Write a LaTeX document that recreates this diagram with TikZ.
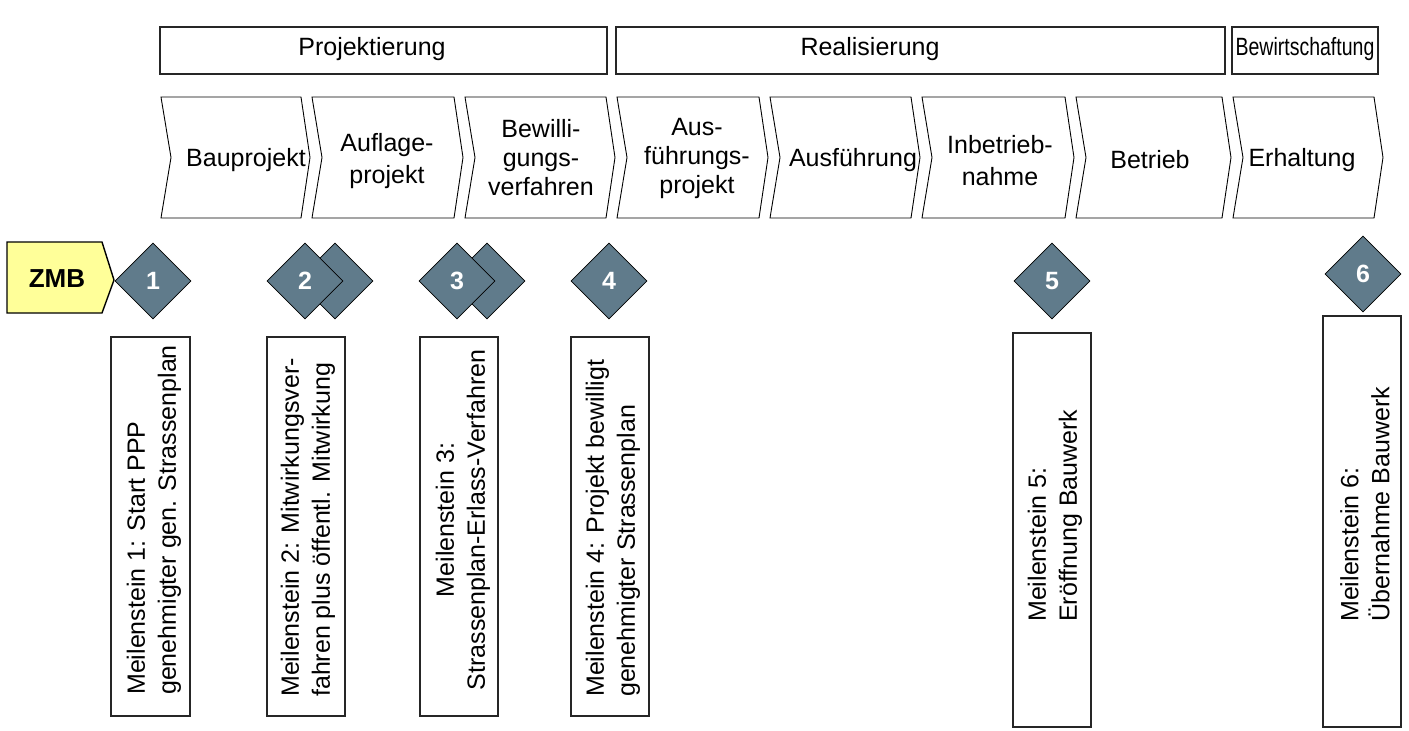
\documentclass[tikz,border=0pt]{standalone}
\usepackage{fontspec}
\setmainfont{Liberation Sans}
\usetikzlibrary{shapes.geometric}
\definecolor{slate}{RGB}{96,123,139}
\definecolor{zmbyellow}{RGB}{255,255,153}
% phase chevron: left x, top-right x
\newcommand\phasechevron[2]{%
  \draw[chev] (#1,97) -- (#2,97) -- ({#2+9},157.5) -- (#2,218) -- (#1,218) -- ({#1+10},157.5) -- cycle;}
\begin{document}
\begin{tikzpicture}[x=1pt,y=-1pt,
  hdrbox/.style={draw=black!85,line width=1.4pt},
  chev/.style={draw=black,line width=0.9pt},
  txt/.style={font=\fontsize{25}{29}\selectfont,align=center,inner sep=0pt},
  wide/.style={font=\fontsize{25}{32}\selectfont},
  stone/.style={diamond,aspect=1,minimum width=76,minimum height=76,inner sep=0pt,
    fill=slate,draw=black,line width=0.8pt,text=white,font=\fontsize{25}{29}\selectfont\bfseries},
  msbox/.style={draw=black!85,line width=1.3pt},
  mstext/.style={font=\fontsize{25}{31}\selectfont,rotate=90,inner sep=0pt}]
\useasboundingbox (0,0) rectangle (1409,731);

% project phases
\draw[hdrbox] (160,27) rectangle (607,74);
\draw[hdrbox] (616,27) rectangle (1225,74);
\draw[hdrbox] (1232,27) rectangle (1378,74);
\node[txt] (hp) at (372,49) {Projektierung};
\node[txt] (hr) at (870,49) {Realisierung};
\node[txt,xscale=0.78] (hb) at (1305,49) {Bewirtschaftung};

% work steps
\phasechevron{161}{301}
\phasechevron{312}{454}
\phasechevron{465}{606}
\phasechevron{617}{759}
\phasechevron{770}{911}
\phasechevron{922}{1065}
\phasechevron{1076}{1222}
\phasechevron{1233}{1374}
\node[txt] (c1) at (246,160) {Bauprojekt};
\node[txt,wide] (c2) at (387,161) {Auflage-\\projekt};
\node[txt] (c3) at (541,158) {Bewilli-\\gungs-\\verfahren};
\node[txt] (c4) at (697,158) {Aus-\\führungs-\\projekt};
\node[txt] (c5) at (853,160) {Ausführung};
\node[txt,wide] (c6) at (1000,161) {Inbetrieb-\\nahme};
\node[txt] (c7) at (1150,160) {Betrieb};
\node[txt] (c8) at (1302,160) {Erhaltung};

% ZMB tag
\draw[fill=zmbyellow,draw=black,line width=1.4pt] (7,242) -- (102,242) -- (114,280) -- (102,313) -- (7,313) -- cycle;
\node[inner sep=0pt,font=\fontsize{26}{30}\selectfont\bfseries] (zmb) at (57,279) {ZMB};

% milestones
\node[stone] (m1) at (153,281) {1};
\node[stone] (m2b) at (335,281) {};
\node[stone] (m2) at (305,281) {2};
\node[stone] (m3b) at (487,281) {};
\node[stone] (m3) at (457,281) {3};
\node[stone] (m4) at (609,281) {4};
\node[stone] (m5) at (1052,281) {5};
\node[stone] (m6) at (1363,274) {6};

% milestone descriptions
\draw[msbox] (111,337) rectangle (190,716);
\draw[msbox] (267,337) rectangle (345,716);
\draw[msbox] (420,337) rectangle (498,716);
\draw[msbox] (571,337) rectangle (649,716);
\draw[msbox] (1013,333) rectangle (1091,727);
\draw[msbox] (1323,316) rectangle (1401,727);
\node[mstext,anchor=west,align=left] (t1) at (154,695) {Meilenstein 1: Start PPP\\genehmigter gen. Strassenplan};
\node[mstext,anchor=west,align=left] (t2) at (308,697) {Meilenstein 2: Mitwirkungsver-\\fahren plus öffentl. Mitwirkung};
\node[mstext,anchor=center,align=center] (t3) at (463,520) {Meilenstein 3:\\Strassenplan-Erlass-Verfahren};
\node[mstext,anchor=west,align=left] (t4) at (613,697) {Meilenstein 4: Projekt bewilligt\\genehmigter Strassenplan};
\node[mstext,anchor=west,align=left] (t5) at (1055,622) {Meilenstein 5:\\Eröffnung Bauwerk};
\node[mstext,anchor=west,align=left] (t6) at (1365,622) {Meilenstein 6:\\Übernahme Bauwerk};
\end{tikzpicture}
\end{document}
